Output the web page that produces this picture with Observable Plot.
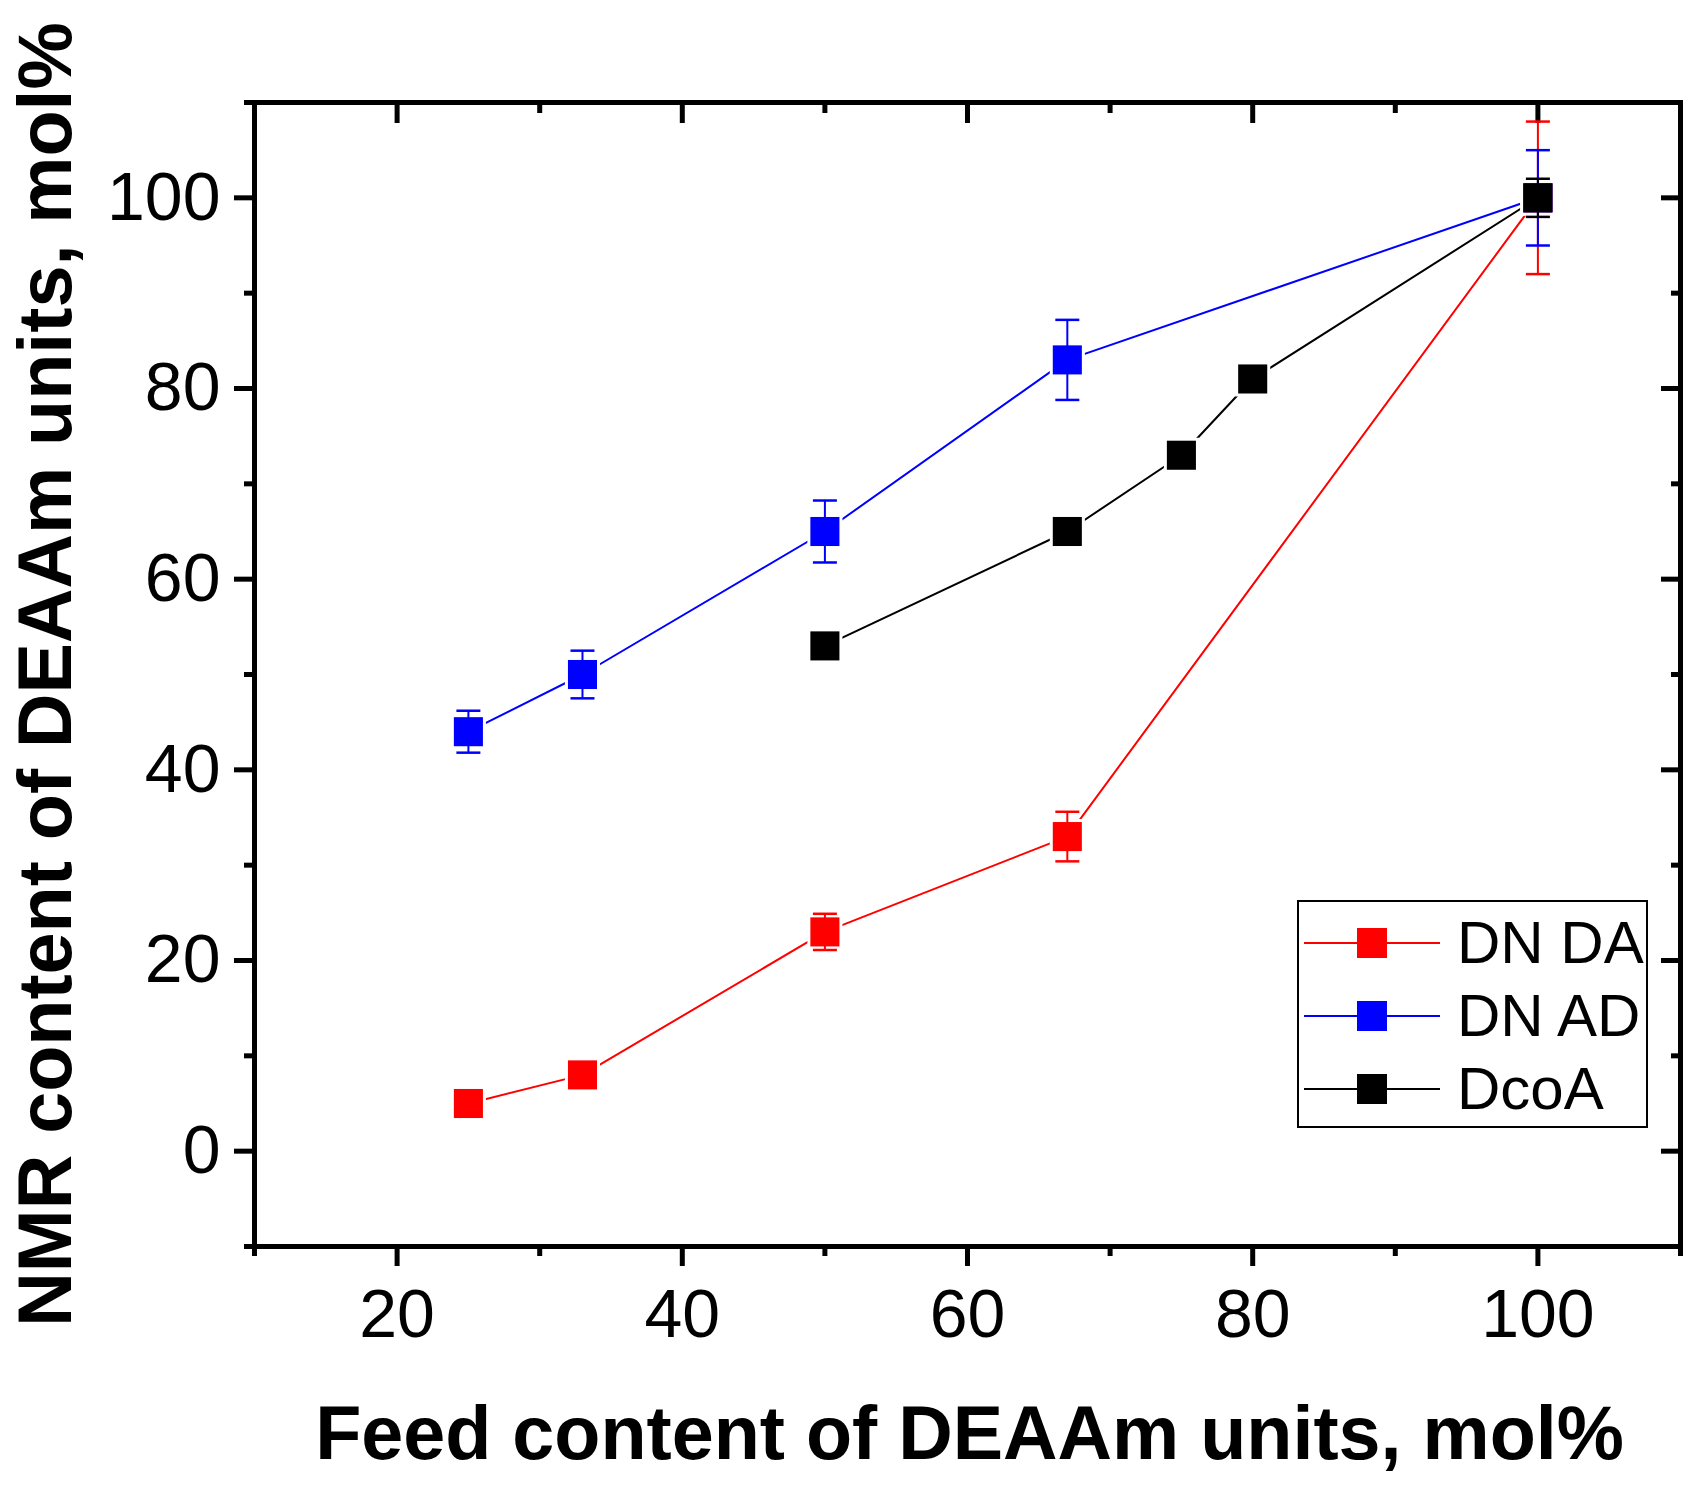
<!DOCTYPE html>
<html lang="en">

<head>
    <meta charset="UTF-8">
    <title>NMR vs feed content</title>
    <script src="https://cdn.jsdelivr.net/npm/d3@7"></script>
    <script src="https://cdn.jsdelivr.net/npm/@observablehq/plot@0.6"></script>
    <style>
        body {
            margin: 0;
            background: #fff;
        }
        #chart {
            position: relative;
            width: 1702px;
            height: 1488px;
            font-family: "Liberation Sans", Arial, sans-serif;
        }
        #legend {
            position: absolute;
            left: 1297px;
            top: 900px;
            width: 347px;
            height: 224px;
            border: 2px solid #000;
            background: #fff;
            box-sizing: content-box;
        }
        #legend .row {
            position: absolute;
            left: 0;
            height: 73px;
            display: flex;
            align-items: center;
            white-space: nowrap;
        }
        #legend svg {
            margin-left: 5px;
            flex: none;
        }
        #legend span {
            margin-left: 17px;
            font-size: 60px;
            line-height: 60px;
            color: #000;
        }
    </style>
</head>

<body>
<div id="chart">
    <div id="legend"></div>
</div>
<script>
    // feed content (x), NMR content (y) and error (+/-) for each series
    const seriesNames = ["DN DA", "DN AD", "DcoA"];
    const seriesColors = ["#ff0000", "#0000ff", "#000000"];

    const feedDNDA = [25, 33, 50, 67, 100];
    const nmrDNDA = [5, 8, 23, 33, 100];
    const errDNDA = [0, 0, 1.9, 2.6, 8];

    const feedDNAD = [25, 33, 50, 67, 100];
    const nmrDNAD = [44, 50, 65, 83, 100];
    const errDNAD = [2.2, 2.5, 3.25, 4.2, 5];

    const feedDcoA = [50, 67, 75, 80, 100];
    const nmrDcoA = [53, 65, 73, 81, 100];
    const errDcoA = [0, 0, 0, 0, 2];

    const xMajor = [20, 40, 60, 80, 100];
    const xMinor = [10, 30, 50, 70, 90, 110];
    const yMajor = [0, 20, 40, 60, 80, 100];
    const yMinor = [-10, 10, 30, 50, 70, 90, 110];

    const feeds = [feedDNDA, feedDNAD, feedDcoA];
    const nmrs = [nmrDNDA, nmrDNAD, nmrDcoA];
    const errs = [errDNDA, errDNAD, errDcoA];

    const series = seriesNames.map((name, s) => ({
        name,
        color: seriesColors[s],
        rows: feeds[s].map((x, i) => ({x, y: nmrs[s][i], e: errs[s][i]}))
    }));

    // horizontal cap for the error bars (half width = r)
    const cap = {
        draw(context, size) {
            const w = Math.sqrt(size / Math.PI);
            context.moveTo(-w, 0);
            context.lineTo(w, 0);
        }
    };

    // lines first, then a white gap round each point, then bars and squares
    const lines = series.map(s => Plot.line(s.rows, {x: "x", y: "y", stroke: s.color, strokeWidth: 2}));
    const gaps = series.map(s => Plot.dot(s.rows, {x: "x", y: "y", symbol: "square", r: 19.8, fill: "#fff", stroke: null}));
    const points = [];
    for (const s of series) {
        const withErr = s.rows.filter(d => d.e > 0);
        points.push(
            Plot.ruleX(withErr, {x: "x", y1: d => d.y - d.e, y2: d => d.y + d.e, stroke: s.color, strokeWidth: 2}),
            Plot.dot(withErr, {x: "x", y: d => d.y + d.e, symbol: cap, r: 12, stroke: s.color, strokeWidth: 2.5, fill: "none"}),
            Plot.dot(withErr, {x: "x", y: d => d.y - d.e, symbol: cap, r: 12, stroke: s.color, strokeWidth: 2.5, fill: "none"}),
            Plot.dot(s.rows, {x: "x", y: "y", symbol: "square", r: 16.4, fill: s.color, stroke: null})
        );
    }

    const plot = Plot.plot({
        width: 1702,
        height: 1488,
        marginLeft: 254,
        marginRight: 22,
        marginTop: 102,
        marginBottom: 242,
        style: {fontFamily: "Liberation Sans, Arial, sans-serif", color: "#000", background: "#fff"},
        x: {domain: [10, 110]},
        y: {domain: [-10, 110]},
        marks: [
            Plot.axisX(xMajor, {tickSize: 20, tickPadding: 22, fontSize: 68, strokeWidth: 5, label: null}),
            Plot.axisX(xMinor, {tickSize: 10, strokeWidth: 5, tickFormat: () => "", label: null}),
            Plot.axisX(xMajor, {anchor: "top", tickSize: 20, dy: 20, strokeWidth: 5, tickFormat: () => "", label: null}),
            Plot.axisX(xMinor, {anchor: "top", tickSize: 10, dy: 10, strokeWidth: 5, tickFormat: () => "", label: null}),
            Plot.axisY(yMajor, {tickSize: 20, tickPadding: 14, fontSize: 68, strokeWidth: 5, label: null}),
            Plot.axisY(yMinor, {tickSize: 10, strokeWidth: 5, tickFormat: () => "", label: null}),
            Plot.axisY(yMajor, {anchor: "right", tickSize: 20, dx: -20, strokeWidth: 5, tickFormat: () => "", label: null}),
            Plot.axisY(yMinor, {anchor: "right", tickSize: 10, dx: -10, strokeWidth: 5, tickFormat: () => "", label: null}),
            ...lines,
            ...gaps,
            ...points,
            Plot.frame({stroke: "#000", strokeWidth: 5}),
            Plot.text(["Feed content of DEAAm units, mol%"], {
                frameAnchor: "bottom", textAnchor: "middle", dy: 212, dx: 2, fontSize: 75.5, fontWeight: "bold", fill: "#000"
            }),
            Plot.text(["NMR content of DEAAm units, mol%"], {
                frameAnchor: "left", textAnchor: "middle", lineAnchor: "middle", dx: -208, rotate: -90,
                fontSize: 75.5, fontWeight: "bold", fill: "#000"
            })
        ]
    });
    document.querySelector("#chart").prepend(plot);

    // legend box drawn from the same series list
    const legend = document.querySelector("#legend");
    series.forEach((s, i) => {
        const row = document.createElement("div");
        row.className = "row";
        row.style.top = (4 + i * 73) + "px";
        row.innerHTML =
            `<svg width="136" height="32">` +
            `<line x1="0" x2="136" y1="16" y2="16" stroke="${s.color}" stroke-width="2"/>` +
            `<rect x="53" y="1" width="30" height="30" fill="${s.color}"/></svg>` +
            `<span>${s.name}</span>`;
        legend.append(row);
    });
</script>
</body>

</html>
